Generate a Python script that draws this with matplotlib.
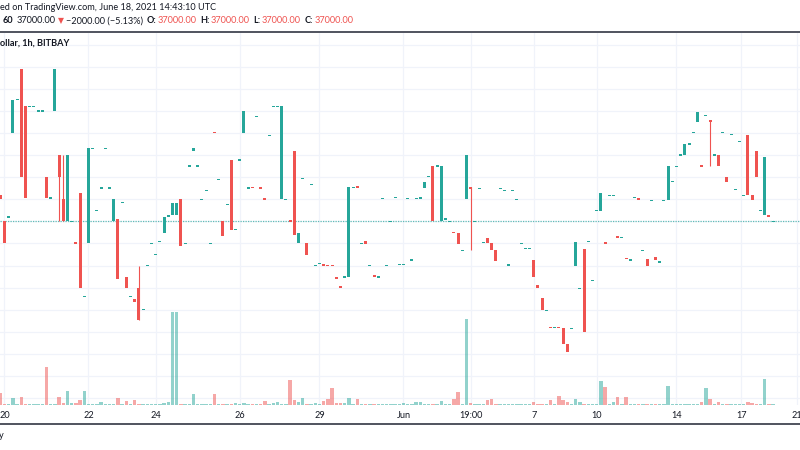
import matplotlib
matplotlib.use("Agg")
import matplotlib.pyplot as plt
from matplotlib.lines import Line2D
from matplotlib.transforms import blended_transform_factory

# ---------------- data (hourly bars, BTC/USD BitBay) ----------------
opens = [38200, 37000, 37200, 41000, 42500, 43900, 42200, 42200, 42200, 42000,
         42000, 39000, 38050, 42000, 40000, 38000, 37000, 37000, 36020, 38300,
         33600, 36000, 40300, 37500, 38500, 40300, 38500, 37000, 37100, 37850,
         34500, 33600, 33500, 34000, 33000, 35000, 36000, 35500, 36080, 36450,
         37200, 37300, 37300, 38000, 36000, 39500, 40200, 39500, 38000, 38390,
         36000, 41020, 38900, 37000, 37770, 39770, 36640, 39770, 41000, 38500,
         38540, 41750, 38520, 38020, 40890, 42200, 42190, 38000, 38000, 37020,
         40180, 36000, 38950, 36000, 38670, 35000, 35080, 35050, 35020, 35020,
         34480, 34090, 34480, 34480, 38540, 38560, 36000, 36100, 35000, 34590,
         34480, 38040, 35000, 37000, 38070, 35050, 35050, 38030, 35250, 38020,
         38020, 38520, 39020, 39500, 39500, 37000, 37080, 37000, 36510, 36490,
         35690, 38000, 38540, 37000, 38480, 36030, 36260, 36000, 35690, 38480,
         38390, 35020, 38390, 38000, 36000, 35780, 35780, 35250, 34120, 33520,
         32970, 32210, 32190, 32210, 32190, 31470, 32140, 35000, 33970, 35750,
         36080, 34330, 37500, 37480, 36060, 38180, 38180, 36300, 36280, 35360,
         35250, 38090, 38020, 35690, 35310, 37930, 35400, 35150, 37930, 37970,
         38800, 39490, 40000, 39990, 40500, 41010, 41510, 39510, 41800, 41570,
         40000, 40000, 41010, 39010, 40920, 38450, 40620, 38180, 40920, 38190,
         40200, 37500, 37290, 37300, 37000]
closes = [38000, 36000, 37200, 42500, 42500, 39000, 38050, 42200, 42200, 42000,
          42000, 38050, 38050, 43900, 39000, 37000, 40000, 37000, 36000, 34000,
          33600, 40300, 40300, 37500, 38500, 40300, 38500, 38000, 34400, 37850,
          34000, 33600, 33350, 32550, 33000, 35000, 36000, 35500, 36080, 37200,
          37300, 37850, 37850, 35900, 36000, 39500, 40320, 39500, 38000, 38390,
          36000, 41000, 38900, 36340, 37770, 36610, 36640, 39770, 42000, 38500,
          38520, 41750, 38500, 38000, 40890, 42200, 42190, 42200, 38000, 37000,
          36380, 36490, 38950, 35480, 38670, 35000, 35080, 34980, 35000, 35000,
          34380, 33970, 34480, 38570, 38540, 38540, 36000, 35980, 35000, 34480,
          34480, 38040, 35000, 37000, 38070, 35050, 35050, 38030, 35250, 38020,
          38100, 38790, 39020, 37000, 39500, 39500, 37160, 37000, 36490, 35970,
          35690, 40000, 38480, 37000, 38480, 36030, 36030, 35690, 35220, 38480,
          38390, 35020, 38390, 38000, 36000, 35780, 35780, 34470, 33970, 32970,
          32970, 32190, 32190, 32190, 31450, 31070, 32140, 36080, 33970, 32010,
          36080, 34330, 37500, 38300, 35960, 38180, 38180, 36280, 36280, 35280,
          35250, 38090, 38000, 35690, 34980, 37930, 35240, 35150, 37930, 39500,
          38800, 39490, 40000, 40500, 40500, 41010, 41930, 39490, 41800, 41500,
          40000, 39490, 41010, 38780, 40920, 38450, 40620, 38180, 38180, 37980,
          38990, 37500, 39900, 37200, 37000]
# bars whose wicks reach beyond the body: index -> (high, low)
wicks = {14: (40000, 37000), 15: (40000, 37000), 33: (35000, 32550),
         112: (38540, 35700), 169: (41570, 39490)}
volumes = [0.36, 0.03, 0.02, 0.21, 0.04, 0.25, 0.02, 0.02, 0.02, 0.02,
           0.02, 1.13, 0.02, 0.02, 0.23, 0.05, 0.41, 0.07, 0.06, 0.16,
           0.43, 0.02, 0.02, 0.02, 0.10, 0.02, 0.02, 0.02, 0.21, 0.03,
           0.12, 0.02, 0.15, 0.04, 0.02, 0.02, 0.02, 0.02, 0.02, 0.06,
           0.10, 2.80, 2.80, 0.02, 0.02, 0.02, 0.33, 0.02, 0.03, 0.04,
           0.04, 0.32, 0.02, 0.04, 0.02, 0.02, 0.07, 0.02, 0.07, 0.04,
           0.04, 0.02, 0.02, 0.13, 0.02, 0.06, 0.10, 0.04, 0.02, 0.74,
           0.16, 0.08, 0.20, 0.02, 0.02, 0.06, 0.04, 0.11, 0.19, 0.50,
           0.07, 0.05, 0.07, 0.20, 0.02, 0.17, 0.02, 0.02, 0.02, 0.04,
           0.03, 0.02, 0.04, 0.04, 0.02, 0.02, 0.07, 0.02, 0.02, 0.10,
           0.08, 0.02, 0.02, 0.03, 0.02, 0.13, 0.02, 0.02, 0.17, 0.40,
           0.02, 2.58, 0.07, 0.02, 0.02, 0.02, 0.15, 0.17, 0.04, 0.02,
           0.02, 0.02, 0.02, 0.02, 0.02, 0.02, 0.02, 0.09, 0.02, 0.04,
           0.02, 0.15, 0.02, 0.28, 0.16, 0.10, 0.02, 0.17, 0.10, 0.02,
           0.04, 0.02, 0.02, 0.71, 0.55, 0.02, 0.08, 0.23, 0.02, 0.23,
           0.02, 0.04, 0.02, 0.03, 0.04, 0.02, 0.04, 0.02, 0.02, 0.57,
           0.02, 0.02, 0.02, 0.02, 0.04, 0.02, 0.02, 0.09, 0.51, 0.19,
           0.02, 0.08, 0.02, 0.02, 0.02, 0.02, 0.02, 0.02, 0.09, 0.07,
           0.02, 0.02, 0.78, 0.02, 0.02]
tick_bars = [1, 21, 37, 57, 76, 96, 112, 127, 142, 161, 176.4, 189.7]
tick_labels = ["20", "22", "24", "26", "29", "Jun", "19:00", "7", "10", "14", "17", "21"]
price_grid = list(range(29000, 46000, 1000))
last_price = 37000

# ---------------- style ----------------
UP = "#26a69a"
DOWN = "#ef5350"
TXT = "#131722"
GRID = "#f0f3fa"
FONT = ["Lato", "DejaVu Sans"]
FS = 6.6

W, H = 800, 450
fig = plt.figure(figsize=(8, 4.5), dpi=100)
fig.patch.set_facecolor("white")

top_px, bot_px = 33, 405
vax = fig.add_axes([0, 1 - bot_px / H, 1, (bot_px - top_px) / H])
ax = fig.add_axes([0, 1 - bot_px / H, 1, (bot_px - top_px) / H])
ax.patch.set_visible(False)

x_lo, x_hi = -0.3 / 4.2, (W - 0.3) / 4.2
ax.set_xlim(x_lo, x_hi)
vax.set_xlim(x_lo, x_hi)
px_per_k = 22.1
y_hi = last_price + (221.3 - top_px) / px_per_k * 1000
y_lo = last_price - (bot_px - 221.3) / px_per_k * 1000
ax.set_ylim(y_lo, y_hi)
vol_top = (bot_px - top_px) / (100 / 3)
vax.set_ylim(0, vol_top)

for a in (ax, vax):
    for s in a.spines.values():
        s.set_visible(False)
    a.set_xticks([])
    a.set_yticks([])

# grid
for p in price_grid:
    vax.axhline((p - y_lo) / (y_hi - y_lo) * vol_top, color=GRID, lw=0.9, zorder=0)
for t in tick_bars:
    vax.axvline(t, color=GRID, lw=0.9, zorder=0)

# volume
xs = list(range(len(opens)))
vcols = [UP if c >= o else DOWN for o, c in zip(opens, closes)]
vax.bar(xs, volumes, width=0.8, color=vcols, alpha=0.5, linewidth=0, zorder=2)

# last price line
ax.axhline(last_price, color=UP, lw=0.9, ls=(0, (1, 1)), alpha=0.7, zorder=1)

# candles
per_px = (y_hi - y_lo) / (bot_px - top_px)
min_h = 1.4 * per_px
for i, (o, c) in enumerate(zip(opens, closes)):
    col = UP if c >= o else DOWN
    if i in wicks:
        hi, lo = wicks[i]
        ax.vlines(i, lo, hi, color=col, lw=0.8, zorder=3)
    lo_b, hi_b = min(o, c), max(o, c)
    h = hi_b - lo_b
    if h < min_h:
        mid = (lo_b + hi_b) / 2
        lo_b, h = mid - min_h / 2, min_h
    ax.bar(i, h, bottom=lo_b, width=0.72, color=col, linewidth=0, zorder=4)

# x labels
btr = blended_transform_factory(ax.transData, fig.transFigure)
for t, lab in zip(tick_bars, tick_labels):
    ax.text(t, 1 - 415 / H, lab, transform=btr, ha="center", va="center",
            fontsize=FS, color=TXT, family=FONT, clip_on=False)

# frame lines
for ypx in (31.7, 424):
    fig.add_artist(Line2D([0, 1], [1 - ypx / H] * 2, transform=fig.transFigure,
                          color="#50535e", lw=1.4))

renderer = fig.canvas.get_renderer()

def ftext(xpx, ypx, s, **kw):
    kw.setdefault("fontsize", FS)
    kw.setdefault("color", TXT)
    kw.setdefault("family", FONT)
    t = fig.text(xpx / W, 1 - ypx / H, s, ha="left", va="center", **kw)
    return t.get_window_extent(renderer).x1

ftext(0, 7.3, "ed on TradingView.com, June 18, 2021 14:43:10 UTC")

segments = [("60", TXT, "bold", 3), ("37000.00", TXT, "normal", 2),
            ("\u25bc", DOWN, "normal", 2), ("\u22122000.00 (\u22125.13%)", TXT, "normal", 4),
            ("O:", TXT, "bold", 1), ("37000.00", DOWN, "normal", 4),
            ("H:", TXT, "bold", 1), ("37000.00", DOWN, "normal", 4),
            ("L:", TXT, "bold", 1), ("37000.00", DOWN, "normal", 4),
            ("C:", TXT, "bold", 1), ("37000.00", DOWN, "normal", 0)]
xcur = 3
for s, col, wt, gap in segments:
    fs = 5.6 if s == "\u25bc" else FS
    fam = ["DejaVu Sans"] if s == "\u25bc" else FONT
    xend = ftext(xcur, 20.7, s, color=col, weight=wt, fontsize=fs, family=fam)
    xcur = xend + gap

ftext(0, 42.7, "ollar, 1h, BITBAY", weight="bold")
ftext(-1, 435, "y")

fig.savefig("out.png", dpi=100, facecolor="white")
